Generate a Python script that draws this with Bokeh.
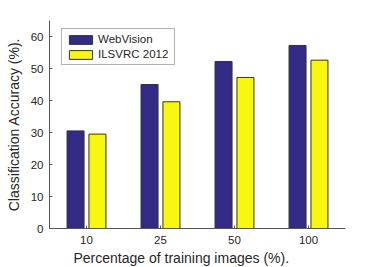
from bokeh.plotting import figure
from bokeh.models import Range1d, FixedTicker, Legend, LegendItem, ColumnDataSource, Title
from bokeh.embed import file_html
from bokeh.resources import INLINE

categories = ["10", "25", "50", "100"]
webvision = [30.5, 45.0, 52.2, 57.2]
ilsvrc = [29.5, 39.6, 47.2, 52.6]
series_names = ["WebVision", "ILSVRC 2012"]
series_colors = ["#332a85", "#f7f70f"]
y_ticks = [0, 10, 20, 30, 40, 50, 60]
x_title = "Percentage of training images (%)."
y_title = "Classification Accuracy (%)."

xs = list(range(1, len(categories) + 1))
offset = 0.148
bar_w = 0.23

FW, FH = 296, 208
BL, BR, BT, BB = 49, 34, 20, 38

p = figure(frame_width=FW, frame_height=FH, output_backend="svg", toolbar_location=None,
           x_range=Range1d(0.5, 4.5), y_range=Range1d(0, 65),
           min_border_left=BL, min_border_right=BR, min_border_top=BT, min_border_bottom=BB)

src1 = ColumnDataSource(dict(x=[x - offset for x in xs], top=webvision))
src2 = ColumnDataSource(dict(x=[x + offset for x in xs], top=ilsvrc))
r1 = p.vbar(x="x", top="top", width=bar_w, source=src1, fill_color=series_colors[0],
            line_color="#333333", line_width=1)
r2 = p.vbar(x="x", top="top", width=bar_w, source=src2, fill_color=series_colors[1],
            line_color="#333333", line_width=1)

p.xgrid.visible = False
p.ygrid.visible = False
p.outline_line_color = None
p.background_fill_color = "white"
p.border_fill_color = "white"

font = "Liberation Sans"
for ax in (p.xaxis[0], p.yaxis[0]):
    ax.axis_line_color = "#555555"
    ax.major_tick_line_color = "#555555"
    ax.major_tick_in = 3
    ax.major_tick_out = 0
    ax.minor_tick_in = 0
    ax.minor_tick_out = 0
    ax.minor_tick_line_color = None
    ax.major_label_text_font = font
    ax.major_label_text_font_size = "11.5px"
    ax.major_label_text_color = "#262626"
    ax.axis_label_text_font = font
    ax.axis_label_text_font_size = "14px"
    ax.axis_label_text_font_style = "normal"
    ax.axis_label_text_color = "#262626"

p.xaxis.ticker = FixedTicker(ticks=xs)
p.xaxis.major_label_overrides = {x: c for x, c in zip(xs, categories)}
p.xaxis.major_label_standoff = 7
p.yaxis.ticker = FixedTicker(ticks=y_ticks)
p.yaxis.axis_label = y_title
p.yaxis.major_label_standoff = 6
p.yaxis.axis_label_standoff = 6

p.add_layout(Title(text=x_title, align="left", offset=24, standoff=2,
                   text_font=font, text_font_size="14px", text_font_style="normal",
                   text_color="#262626"), "below")

legend = Legend(items=[LegendItem(label=series_names[0], renderers=[r1]),
                       LegendItem(label=series_names[1], renderers=[r2])],
                location=(12, FH - 12 - 33))
legend.margin = 0
legend.padding = 4
legend.spacing = 3
legend.glyph_width = 29
legend.glyph_height = 11
legend.label_text_font = font
legend.label_text_font_size = "11.5px"
legend.label_text_color = "#262626"
legend.label_standoff = 3
legend.label_width = 72
legend.label_height = 11
legend.border_line_color = "#666666"
p.add_layout(legend)

open("out.html", "w").write(file_html(p, INLINE))
